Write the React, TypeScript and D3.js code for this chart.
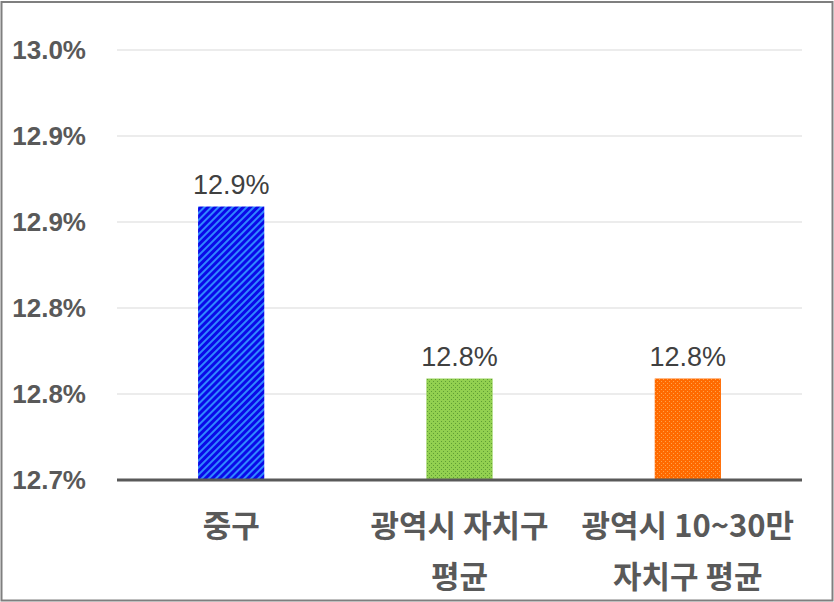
import React from "react";
import * as d3 from "d3";

const categories = ["중구", "광역시 자치구\n평균", "광역시 10~30만\n자치구 평균"];
const values = [12.859, 12.759, 12.759];
const tickValues = [12.7, 12.75, 12.8, 12.85, 12.9, 12.95];
const tickLabels = ["12.7%", "12.8%", "12.8%", "12.9%", "12.9%", "13.0%"];
const patternIds = ["pBlue", "pGreen", "pOrange"];

const W = 834;
const H = 602;
const left = 117;
const right = 802;
const top = 50;
const bottom = 480;

export default function App() {
  const x = d3.scaleBand<string>().domain(categories).range([left, right]).paddingInner(0.71).paddingOuter(0.355);
  const y = d3.scaleLinear().domain([12.7, 12.95]).range([bottom, top]);

  return (
    <svg width={W} height={H} style={{ position: "absolute", left: 0, top: 0 }}>
      <defs>
        <pattern id="pBlue" width={5} height={5} patternUnits="userSpaceOnUse" patternTransform="rotate(45)">
          <rect width={5} height={5} fill="#0a0ae8" />
          <rect x={0} y={0} width={2} height={5} fill="#2f86ff" />
        </pattern>
        <pattern id="pGreen" width={4} height={4} patternUnits="userSpaceOnUse">
          <rect width={4} height={4} fill="#92d050" />
          <rect x={1} y={1} width={1} height={1} fill="#5f9e34" />
          <rect x={3} y={3} width={1} height={1} fill="#5f9e34" />
        </pattern>
        <pattern id="pOrange" width={4} height={4} patternUnits="userSpaceOnUse">
          <rect width={4} height={4} fill="#ff6a00" />
          <rect x={1} y={1} width={1} height={1} fill="#ffa24a" />
          <rect x={3} y={3} width={1} height={1} fill="#ffa24a" />
        </pattern>
      </defs>
      <rect x={0} y={0} width={W} height={H} fill="#ffffff" />
      <rect x={1.5} y={2} width={831} height={598.5} fill="none" stroke="#7f7f7f" strokeWidth={2} />
      {tickValues.map((t, i) => (
        <g key={i}>
          {i > 0 && (
            <line x1={left} x2={right} y1={y(t)} y2={y(t)} stroke="#d9d9d9" strokeWidth={1} />
          )}
          <text
            x={86}
            y={y(t)}
            textAnchor="end"
            dominantBaseline="central"
            fontFamily="'Liberation Sans', Arial, sans-serif"
            fontWeight="bold"
            fontSize={26}
            fill="#595959"
          >
            {tickLabels[i]}
          </text>
        </g>
      ))}
      {categories.map((c, i) => {
        const bx = x(c)!;
        const bw = x.bandwidth();
        const yt = y(values[i]);
        return (
          <g key={c}>
            <rect x={bx} y={yt} width={bw} height={bottom - yt} fill={`url(#${patternIds[i]})`} />
            <text
              x={bx + bw / 2}
              y={yt - 22}
              textAnchor="middle"
              dominantBaseline="central"
              fontFamily="'Liberation Sans', Arial, sans-serif"
              fontSize={27}
              fill="#404040"
            >
              {values[i].toFixed(1) + "%"}
            </text>
            {c.split("\n").map((line, j) => (
              <text
                key={j}
                x={bx + bw / 2}
                y={523 + j * 51}
                textAnchor="middle"
                dominantBaseline="central"
                fontFamily="'Noto Sans CJK KR', sans-serif"
                fontWeight="bold"
                fontSize={31}
                fill="#595959"
              >
                {line}
              </text>
            ))}
          </g>
        );
      })}
      <line x1={left} x2={right} y1={bottom} y2={bottom} stroke="#595959" strokeWidth={3} />
    </svg>
  );
}
